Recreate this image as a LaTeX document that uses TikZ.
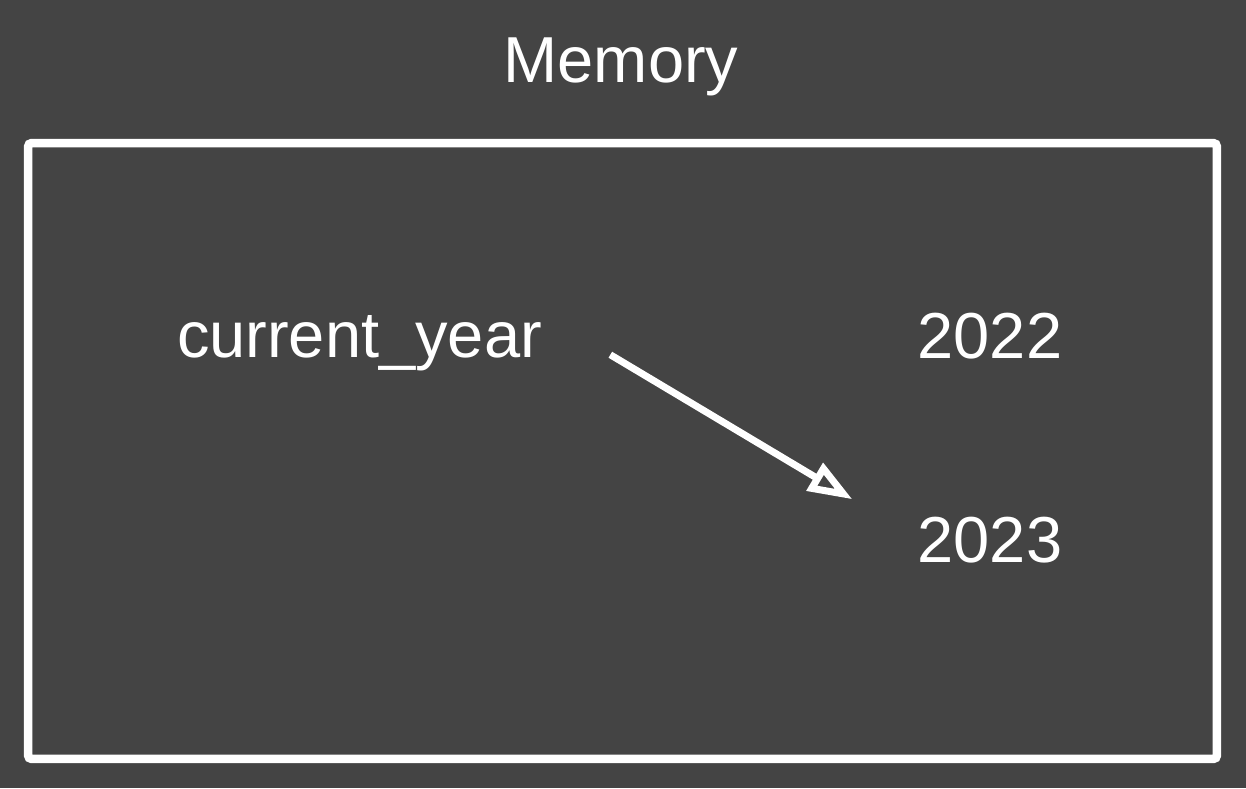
\documentclass[tikz,border=0pt]{standalone}
\usepackage{fontspec}
\setmainfont{Liberation Sans}
\usetikzlibrary{arrows.meta}

\definecolor{bgdark}{HTML}{444444}

\tikzset{
  label/.style={text=white, inner sep=0pt, anchor=base, font=\fontsize{37}{44}\selectfont},
  frame/.style={draw=white, line width=0.17cm, rounded corners=2pt,
                minimum width=23.78cm, minimum height=12.32cm},
  link/.style={draw=white, line width=0.14cm,
               -{Triangle[open, length=0.88cm, width=0.62cm]}}
}

\begin{document}
\begin{tikzpicture}[x=0.02cm, y=-0.02cm]

  % Background
  \fill[bgdark] (0,0) rectangle (1246,788);
  \useasboundingbox (0,0) rectangle (1246,788);

  % Title
  \node[label] (title) at (621,82) {Memory};

  % Memory frame
  \node[frame] (mem) at (622.5,451) {};

  % Variable and values
  \node[label] (var)   at (359.5,357) {current\_year};
  \node[label] (old)   at (990,358)   {2022};
  \node[label] (new)   at (990,562)   {2023};

  % Reference
  \draw[link] ([shift={(68,12)}]var.east) -- ([shift={(-65,-17)}]new.north west);

\end{tikzpicture}
\end{document}
